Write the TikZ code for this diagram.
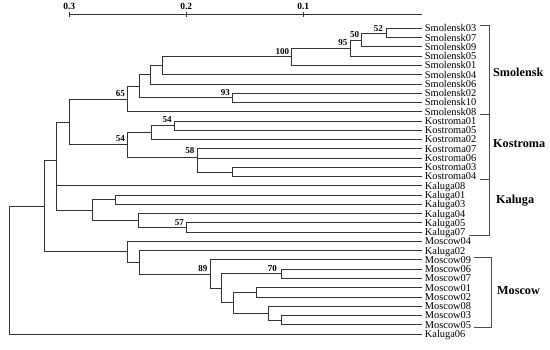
\documentclass[tikz,border=0pt]{standalone}
\usepackage{fontspec}
\setmainfont{Liberation Serif}
\usetikzlibrary{positioning, calc}
\tikzset{
  branch/.style={draw=black!80, line width=0.65pt},
  leaf/.style={anchor=west, inner xsep=3pt, inner ysep=0pt, text height=7.5pt, text depth=0.5pt, font=\fontsize{10.4}{10}\selectfont},
  boot/.style={anchor=east, inner sep=0pt, font=\fontsize{9}{9}\selectfont\bfseries},
  group/.style={anchor=west, inner sep=0pt, font=\fontsize{12.2}{12}\selectfont\bfseries},
  brk/.style={draw=black!70, line width=0.6pt},
  scalelabel/.style={inner sep=0pt, font=\fontsize{9.5}{9.5}\selectfont\bfseries}
}

\begin{document}
\begin{tikzpicture}[x=1pt, y=-1pt]
\useasboundingbox (0,0) rectangle (550,349);

% Scale bar
\draw[branch] (69.2,14.3) -- (421.7,14.3);
\foreach \lab/\x [count=\k] in {0.3/69.2, 0.2/186.2, 0.1/303.2} {
  \draw[branch] (\x,12) -- (\x,16.7);
  \node[scalelabel] (tick\k) at (\x,6) {\lab};
}

% Leaves
\foreach \name [count=\i from 0] in {Smolensk03, Smolensk07, Smolensk09, Smolensk05,
    Smolensk01, Smolensk04, Smolensk06, Smolensk02, Smolensk10, Smolensk08,
    Kostroma01, Kostroma05, Kostroma02, Kostroma07, Kostroma06, Kostroma03, Kostroma04,
    Kaluga08, Kaluga01, Kaluga03, Kaluga04, Kaluga05, Kaluga07,
    Moscow04, Kaluga02, Moscow09, Moscow06, Moscow07, Moscow01, Moscow02,
    Moscow08, Moscow03, Moscow05, Kaluga06}
  \node[leaf] (\name) at (421.7, {28.3+9.26*\i}) {\name};

% Inner nodes
\coordinate (n52) at (386.7, 32.93);
\coordinate (n50) at (361.7, 39.88);
\coordinate (n95) at (350.7, 47.98);
\coordinate (n100) at (291.7, 56.66);
\coordinate (nS4) at (162, 65.63);
\coordinate (nS6) at (150.3, 74.75);
\coordinate (n93) at (232.7, 97.75);
\coordinate (nS7) at (139, 86.25);
\coordinate (n65) at (127, 98.95);
\coordinate (nK15) at (174.5, 125.53);
\coordinate (nK2) at (151, 132.48);
\coordinate (nK34) at (232.7, 171.83);
\coordinate (n58) at (197.7, 157);
\coordinate (nK) at (127.3, 144.74);
\coordinate (nSK) at (69, 121.85);
\coordinate (nKa13) at (115.8, 199.61);
\coordinate (n57) at (186.7, 227.39);
\coordinate (nKa4) at (138.8, 220.45);
\coordinate (nKa) at (92, 210.03);
\coordinate (nA) at (56.5, 160.5);
\coordinate (n70) at (281, 273.69);
\coordinate (nM12) at (256.7, 292.21);
\coordinate (nM35) at (281, 319.99);
\coordinate (nM8) at (268.3, 313.05);
\coordinate (nM1) at (233.3, 302.63);
\coordinate (nM6) at (221, 288.16);
\coordinate (n89) at (210, 273.98);
\coordinate (nM2) at (139, 262.26);
\coordinate (nM) at (127, 251.77);
\coordinate (nB) at (44.3, 206.1);
\coordinate (root) at (9.3, 270);

% Branches
\foreach \p/\c in {n52/Smolensk03, n52/Smolensk07, n50/n52, n50/Smolensk09,
    n95/n50, n95/Smolensk05, n100/n95, n100/Smolensk01, nS4/n100, nS4/Smolensk04,
    nS6/nS4, nS6/Smolensk06, n93/Smolensk02, n93/Smolensk10, nS7/nS6, nS7/n93,
    n65/nS7, n65/Smolensk08,
    nK15/Kostroma01, nK15/Kostroma05, nK2/nK15, nK2/Kostroma02,
    nK34/Kostroma03, nK34/Kostroma04, n58/Kostroma07, n58/Kostroma06, n58/nK34,
    nK/nK2, nK/n58, nSK/n65, nSK/nK,
    nKa13/Kaluga01, nKa13/Kaluga03, n57/Kaluga05, n57/Kaluga07, nKa4/Kaluga04, nKa4/n57,
    nKa/nKa13, nKa/nKa4, nA/nSK, nA/Kaluga08, nA/nKa,
    n70/Moscow06, n70/Moscow07, nM12/Moscow01, nM12/Moscow02,
    nM35/Moscow03, nM35/Moscow05, nM8/Moscow08, nM8/nM35, nM1/nM12, nM1/nM8,
    nM6/n70, nM6/nM1, n89/Moscow09, n89/nM6, nM2/Kaluga02, nM2/n89,
    nM/Moscow04, nM/nM2, nB/nA, nB/nM, root/nB, root/Kaluga06}
  \draw[branch] (\p) |- (\c);

% Bootstrap values
\node[boot] (b52) at (383, 28.3) {52};
\node[boot] (b50) at (359.3, 34.6) {50};
\node[boot] (b95) at (347.5, 43) {95};
\node[boot] (b100) at (289.3, 52) {100};
\node[boot] (b65) at (125, 94) {65};
\node[boot] (b93) at (230, 92.3) {93};
\node[boot] (b54a) at (171.7, 120) {54};
\node[boot] (b54b) at (125, 139) {54};
\node[boot] (b58) at (194.5, 151) {58};
\node[boot] (b57) at (184, 222.3) {57};
\node[boot] (b89) at (207.5, 269) {89};
\node[boot] (b70) at (277, 268.3) {70};

% Group brackets
\draw[brk] (Smolensk03.east |- 0,25.3) -- (489,25.3) -- (489,235) -- (Kaluga07.east |- 0,235);
\draw[brk] (Smolensk08.east |- 0,114.6) -- (489,114.6);
\draw[brk] (Kostroma04.east |- 0,179.5) -- (489,179.5);
\draw[brk] (Moscow09.east |- 0,256.8) -- (491,256.8) -- (491,327.6) -- (Moscow05.east |- 0,327.6);

\node[group] (gS) at (493,72) {Smolensk};
\node[group] (gK) at (493,144) {Kostroma};
\node[group] (gKa) at (496,201) {Kaluga};
\node[group] (gM) at (497,291) {Moscow};
\end{tikzpicture}
\end{document}
